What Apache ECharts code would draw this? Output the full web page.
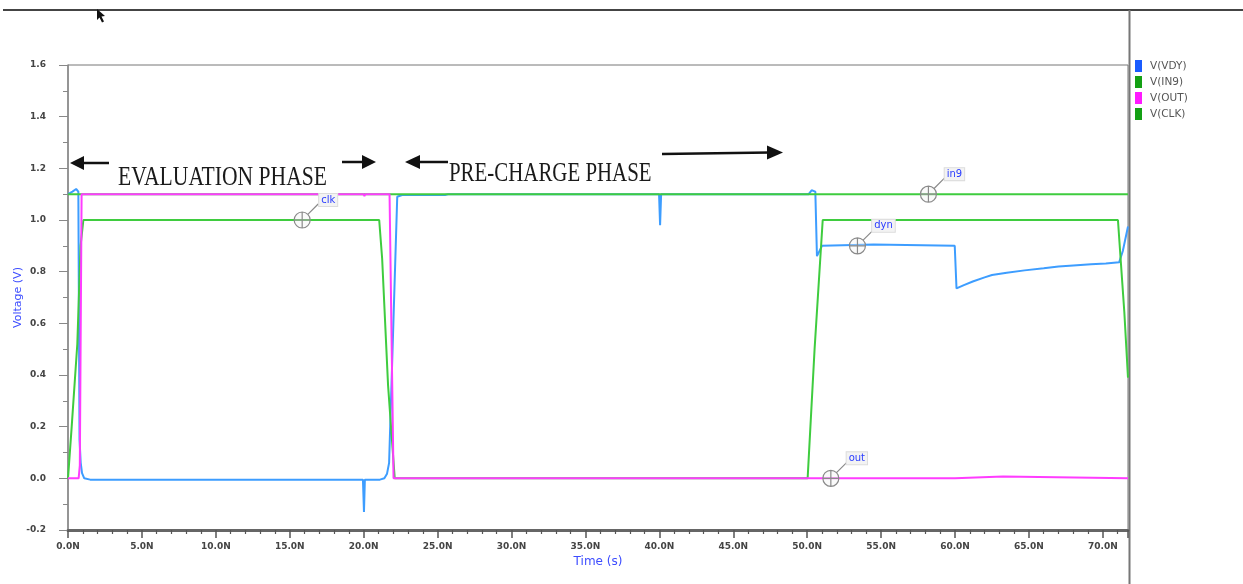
<!DOCTYPE html>
<html>
<head>
<meta charset="utf-8">
<script src="https://cdn.jsdelivr.net/npm/echarts@6/dist/echarts.min.js"></script>
<style>html,body{margin:0;padding:0;background:#fff;}#chart{width:1243px;height:584px;}</style>
</head>
<body>
<div id="chart"></div>
<script>
// ---- data (time in ns, voltage in V) ----
const seriesNames = ['V(VDY)', 'V(IN9)', 'V(OUT)', 'V(CLK)'];
const vdyData = [
  [0, 1.1], [0.3, 1.11], [0.55, 1.12], [0.7, 1.11], [0.78, 0.15], [0.86, 0.06], [0.95, 0.02],
  [1.1, 0.0], [1.5, -0.005], [19.95, -0.005], [20.02, -0.13], [20.08, -0.005],
  [21.1, -0.005], [21.4, 0.0], [21.58, 0.018], [21.72, 0.06], [22.27, 1.09], [22.6, 1.097],
  [25.5, 1.097], [25.7, 1.1], [39.98, 1.1], [40.05, 0.98], [40.12, 1.1],
  [50.1, 1.1], [50.3, 1.115], [50.55, 1.11], [50.66, 0.86], [51.0, 0.9], [51.1, 0.905],
  [54.5, 0.905], [54.6, 0.9], [59.98, 0.9], [60.1, 0.735], [60.6, 0.748], [61.2, 0.762],
  [62.0, 0.778], [62.5, 0.787], [63.5, 0.796], [64.7, 0.805], [66.0, 0.813], [67.0, 0.82],
  [68.0, 0.824], [69.2, 0.829], [70.2, 0.832], [71.1, 0.836], [71.35, 0.88], [71.7, 0.975]
];
const in9Data = [[0, 1.1], [71.7, 1.1]];
const outData = [
  [0, 0.0], [0.72, 0.0], [0.8, 0.05], [0.92, 1.1], [20.0, 1.1], [20.05, 1.092], [20.1, 1.1],
  [21.75, 1.1], [22.02, 0.0], [40.0, 0.0], [40.05, 0.006], [40.1, 0.0],
  [60.0, 0.0], [60.05, 0.007], [63.25, 0.007], [63.3, 0.0], [71.7, 0.0]
];
const clkData = [
  [0, 0.0], [0.25, 0.2], [0.63, 0.52], [0.85, 0.9], [1.04, 1.0], [21.05, 1.0], [21.25, 0.85],
  [21.65, 0.36], [21.95, 0.12], [22.1, 0.0], [50.03, 0.0], [50.5, 0.5], [51.05, 1.0],
  [71.02, 1.0], [71.2, 0.85], [71.45, 0.645], [71.7, 0.39]
];
const markers = { vdy: [53.4, 0.9, 'dyn'], in9: [58.2, 1.1, 'in9'], out: [51.6, 0.0, 'out'], clk: [15.84, 1.0, 'clk'] };
const lineColors = { vdy: '#3d9dff', in9: '#3fcc3f', out: '#ff3cff', clk: '#3fcc3f' };
const legendColors = ['#1a5cff', '#14a014', '#ff1aff', '#14a014'];

const markerPath = 'path://M0,16 A8,8 0 1,1 16,16 A8,8 0 1,1 0,16 Z M8,8 L8,24 M0,16 L16,16 M13.66,10.34 L24,0';
function mp(m) {
  return {
    symbol: markerPath, symbolSize: 24, symbolOffset: [4, -4], silent: true,
    itemStyle: { color: 'rgba(240,240,240,0.35)', borderColor: '#8a8a8a', borderWidth: 1.2 },
    label: {
      show: true, position: 'inside', offset: [22, -16], formatter: m[2],
      color: '#2a3cff', fontSize: 10, fontFamily: 'DejaVu Sans',
      backgroundColor: '#f3f3f3', borderColor: '#dcdcdc', borderWidth: 1, padding: [1, 2]
    },
    data: [{ coord: [m[0], m[1]] }]
  };
}
function lineSeries(name, data, color, m) {
  return {
    name: name, type: 'line', data: data, showSymbol: false, animation: false,
    lineStyle: { color: color, width: 2 }, itemStyle: { color: color },
    markPoint: mp(m)
  };
}

const chart = echarts.init(document.getElementById('chart'), null, { renderer: 'canvas' });
const arrowShaft = (x1, y1, x2, y2) => ({ type: 'line', shape: { x1, y1, x2, y2 }, style: { stroke: '#111', lineWidth: 2.5 }, silent: true });
const arrowHead = (pts) => ({ type: 'polygon', shape: { points: pts }, style: { fill: '#111' }, silent: true });
chart.setOption({
  backgroundColor: '#ffffff',
  animation: false,
  grid: { left: 68, top: 65, right: 115, bottom: 54, show: true, borderColor: '#777', borderWidth: 1,
    containLabel: false, outerBoundsMode: 'none' },
  legend: {
    orient: 'vertical', left: 1135, top: 60, icon: 'rect', itemWidth: 7, itemHeight: 12, itemGap: 4,
    padding: 0, selectedMode: false,
    textStyle: { fontSize: 10.5, color: '#555', fontFamily: 'DejaVu Sans', padding: [0, 0, 0, 3] },
    data: seriesNames.map((n, i) => ({ name: n, itemStyle: { color: legendColors[i] } }))
  },
  xAxis: {
    type: 'value', min: 0, max: 71.7, interval: 5,
    name: 'Time (s)', nameLocation: 'middle', nameGap: 26, nameMoveOverlap: false,
    nameTextStyle: { color: '#3d4dff', fontSize: 12, fontFamily: 'DejaVu Sans' },
    axisLine: { show: true, onZero: false, lineStyle: { color: '#666', width: 3 } },
    axisTick: { show: true, length: 8, lineStyle: { color: '#555', width: 1.5 } },
    minorTick: { show: true, splitNumber: 5, length: 4, lineStyle: { color: '#555', width: 1.2 } },
    splitLine: { show: false },
    axisLabel: {
      margin: 12, fontSize: 9, fontWeight: 'bold', color: '#444', fontFamily: 'DejaVu Sans',
      formatter: v => (Math.abs(v / 5 - Math.round(v / 5)) < 1e-6 ? v.toFixed(1) + 'N' : '')
    }
  },
  yAxis: {
    type: 'value', min: -0.2, max: 1.6, interval: 0.2,
    name: 'Voltage (V)', nameLocation: 'middle', nameGap: 44, nameMoveOverlap: false,
    nameTextStyle: { color: '#3d4dff', fontSize: 11, fontFamily: 'DejaVu Sans' },
    axisLine: { show: true, onZero: false, lineStyle: { color: '#888', width: 1.5 } },
    axisTick: { show: true, length: 9, lineStyle: { color: '#888', width: 1 } },
    minorTick: { show: true, splitNumber: 2, length: 5, lineStyle: { color: '#888', width: 1 } },
    splitLine: { show: false },
    axisLabel: { margin: 22, fontSize: 9, fontWeight: 'bold', color: '#444', fontFamily: 'DejaVu Sans',
      formatter: v => v.toFixed(1) }
  },
  series: [
    lineSeries(seriesNames[0], vdyData, lineColors.vdy, markers.vdy),
    lineSeries(seriesNames[1], in9Data, lineColors.in9, markers.in9),
    lineSeries(seriesNames[3], clkData, lineColors.clk, markers.clk),
    lineSeries(seriesNames[2], outData, lineColors.out, markers.out)
  ],
  graphic: [
    { type: 'line', shape: { x1: 3, y1: 10, x2: 1243, y2: 10 }, style: { stroke: '#444', lineWidth: 2 }, silent: true },
    { type: 'line', shape: { x1: 1129.5, y1: 10, x2: 1129.5, y2: 584 }, style: { stroke: '#777', lineWidth: 2 }, silent: true },
    { type: 'polygon', shape: { points: [[97, 9], [97, 20], [99.5, 17.5], [102, 22.5], [104, 21.5], [101.5, 16.5], [105, 16]] }, style: { fill: '#111' }, silent: true },
    { type: 'text', x: 118, y: 178, scaleY: 1.3, silent: true,
      style: { text: 'EVALUATION PHASE', font: '21.6px "Liberation Serif"', fill: '#1a1a1a', textVerticalAlign: 'middle', verticalAlign: 'middle' } },
    { type: 'text', x: 449, y: 173.5, scaleY: 1.3, silent: true,
      style: { text: 'PRE-CHARGE PHASE', font: '20.9px "Liberation Serif"', fill: '#1a1a1a', textVerticalAlign: 'middle', verticalAlign: 'middle' } },
    arrowShaft(82, 163, 109, 163), arrowHead([[70, 163], [84, 156], [84, 170]]),
    arrowShaft(342, 162, 364, 162), arrowHead([[376, 162], [362, 155], [362, 169]]),
    arrowShaft(418, 162, 448, 162), arrowHead([[405, 162], [420, 155], [420, 169]]),
    arrowShaft(662, 154, 770, 152.5), arrowHead([[783, 152.5], [767, 145.5], [767, 159.5]])
  ]
});
</script>
</body>
</html>
